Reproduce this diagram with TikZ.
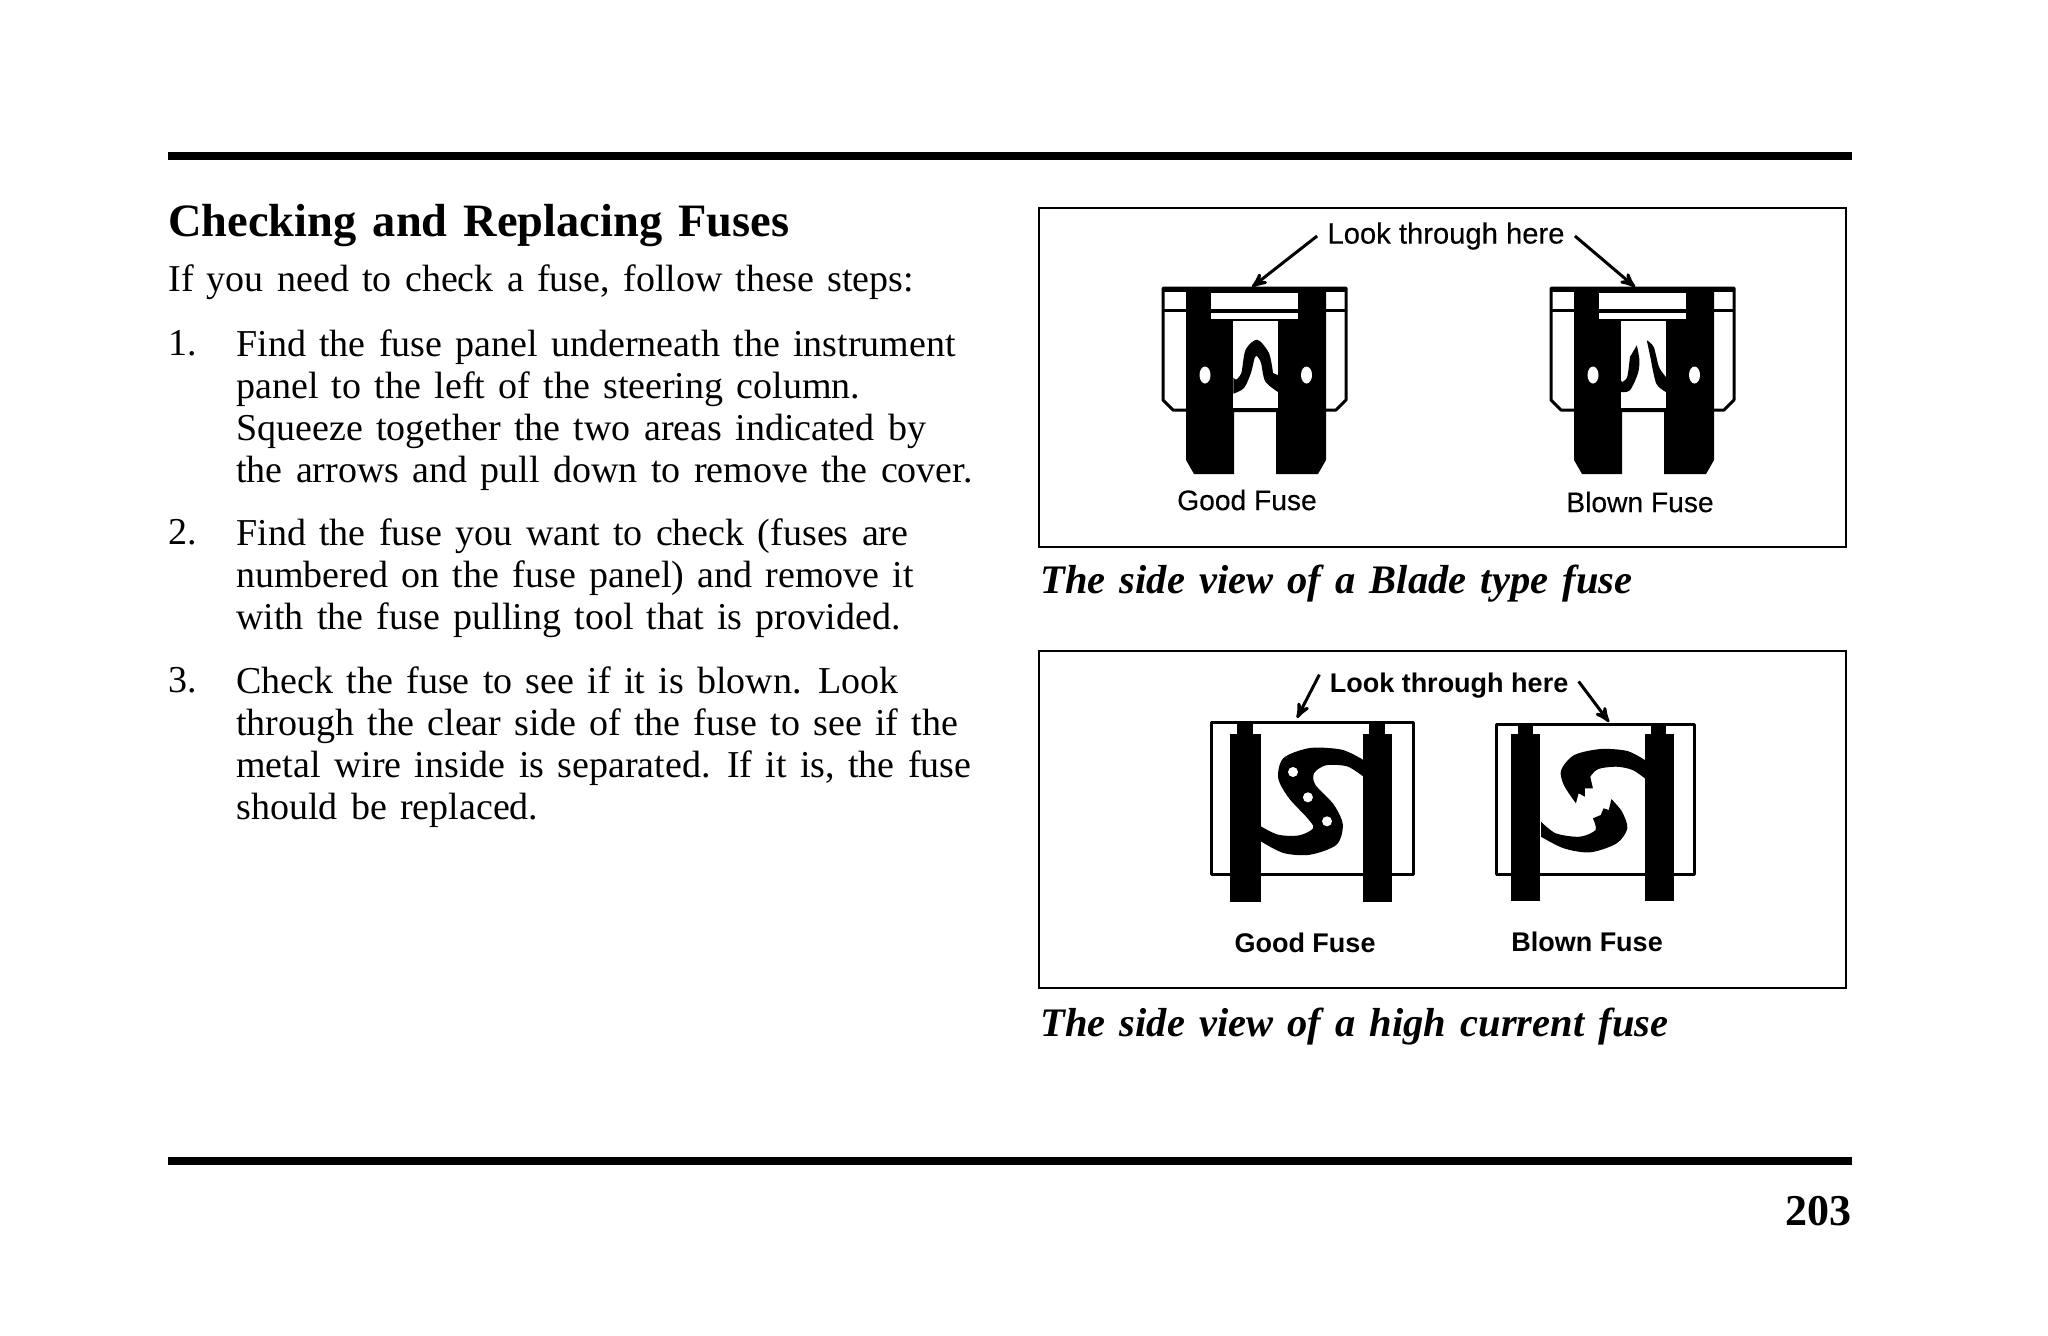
\documentclass[tikz,border=0pt]{standalone}
\usepackage{fontspec}
\setmainfont[WordSpace=1.4]{Liberation Serif}
\setsansfont{Liberation Sans}
\newfontfamily\medsans[FakeBold=0.35]{Liberation Sans}
\usetikzlibrary{arrows}
\tikzset{
	bodytext/.style={font=\fontsize{19}{21}\selectfont,align=left,inner sep=0pt},
	stepnum/.style={bodytext,anchor=base west},
	steptext/.style={bodytext,anchor=north west},
	caption/.style={font=\fontsize{20.25}{22}\selectfont\bfseries\itshape,inner sep=0pt,anchor=base west},
	looklabel/.style={font=\medsans\fontsize{14.6}{16}\selectfont,inner sep=5pt},
	fuselabel/.style={font=\medsans\fontsize{14.1}{16}\selectfont,inner sep=0pt},
	boldlabel/.style={font=\sffamily\fontsize{13.5}{16}\selectfont\bfseries},
	pointer/.style={-stealth',line width=1.5pt,shorten >=0pt},
	frame/.style={line width=1.1pt},
	casing/.style={draw,fill=white,line width=1.5pt,line join=round},
	bladefuse/.pic={
		\path[casing] (0,0) -- (183,0) -- (183,112) -- (173,122) -- (10,122) -- (0,112) -- cycle;
		\fill (0,-1) rectangle (183,4);
		\draw[line width=1.5pt] (0,22.7) -- (183,22.7);
		\fill (23,0) -- (163,0) -- (163,172) -- (155,186) -- (113,186) -- (113,124) -- (71,124) -- (71,186) -- (31,186) -- (23,172) -- cycle;
		\fill[white] (48,5) rectangle (135,21);
		\fill[white] (48,25) rectangle (135,31);
		\fill[white] (70,33) rectangle (115,120);
		\fill[white] (42,87) ellipse (5.5 and 8.5);
		\fill[white] (143.5,87) ellipse (5.5 and 8.5);
	}
}
\begin{document}
\begin{tikzpicture}[x=0.5pt,y=-0.5pt]
	\useasboundingbox (0,0) rectangle (2048,1335);
	% rules
	\fill (168,152) rectangle (1852,160);
	\fill (168,1157) rectangle (1852,1165);
	% left column
	\node[font=\fontsize{23.2}{25}\selectfont\bfseries,inner sep=0pt,anchor=base west] (title) at (168,236) {Checking and Replacing Fuses};
	\node[stepnum] (intro) at (168,291) {If you need to check a fuse, follow these steps:};
	\node[stepnum] (num1) at (168,355) {1.};
	\node[steptext] (step1) at (236,329) {Find the fuse panel underneath the instrument\\panel to the left of the steering column.\\Squeeze together the two areas indicated by\\the arrows and pull down to remove the cover.};
	\node[stepnum] (num2) at (168,544.5) {2.};
	\node[steptext] (step2) at (236,518.5) {Find the fuse you want to check (fuses are\\numbered on the fuse panel) and remove it\\with the fuse pulling tool that is provided.};
	\node[stepnum] (num3) at (168,692) {3.};
	\node[steptext] (step3) at (236,666) {Check the fuse to see if it is blown. Look\\through the clear side of the fuse to see if the\\metal wire inside is separated. If it is, the fuse\\should be replaced.};
	\node[font=\fontsize{22}{24}\selectfont\bfseries,inner sep=0pt,anchor=base east] (page) at (1852,1225) {203};
	% blade panel
	\draw[frame] (1039,208) rectangle (1846,547);
	\pic at (1163,288) {bladefuse};
	\pic at (1551,288) {bladefuse};
	\begin{scope}[shift={(1163,288)}]
		\fill plot[smooth] coordinates {(70.4,105.7) (81,100) (87.9,85) (91.6,70) (94.2,68.3) (98,75) (102.2,93.3) (115.4,104.3)} -- (115.4,87.3) -- plot[smooth] coordinates {(110,85) (105.9,65) (94.2,51.7) (82.6,61.7) (78.3,85) (73,91.7)} -- (70.4,90) -- cycle;
	\end{scope}
	\begin{scope}[shift={(1551,288)}]
		\fill plot[smooth] coordinates {(69.9,104) (78.9,102.3) (86.8,85.7) (88.4,72.3) (85.8,57.3)} -- plot[smooth] coordinates {(78.9,69) (76.2,89) (70.9,94)} -- (69.9,92.3) -- cycle;
		\fill plot[smooth] coordinates {(95.8,52.3) (102.7,59) (108,79) (114.9,89)} -- plot[smooth] coordinates {(114.9,104) (105.3,95.7) (100,72.3)} -- cycle;
	\end{scope}
	\node[looklabel] (look1) at (1446,236) {Look through here};
	\coordinate (bladegood) at (1252,287);
	\coordinate (bladeblown) at (1635,287);
	\path[pointer] (look1.west) edge (bladegood);
	\path[pointer] (look1.east) edge (bladeblown);
	\node[fuselabel] (good1) at (1247,500) {Good Fuse};
	\node[fuselabel] (blown1) at (1640,502) {Blown Fuse};
	\node[caption] (cap1) at (1040,593) {The side view of a Blade type fuse};
	% high current panel
	\draw[frame] (1039,651) rectangle (1846,988);
	\begin{scope}[shift={(1211,722)}]
		\path[casing] (0,0) rectangle (202,152);
		\fill (0,-1) rectangle (202,2);
		\fill (18.5,12) rectangle (50,180);
		\fill (26,0) rectangle (42,12);
		\fill (152,12) rectangle (181,180);
		\fill (158,0) rectangle (174,12);
		\fill plot[smooth] coordinates {(152,37.7) (130.8,27.7) (99,26) (72.5,36) (67.2,56) (77.8,76) (96.3,96) (102.2,106) (88.4,113.3) (67.2,112.7) (49.8,104.3)} -- plot[smooth] coordinates {(49.8,119.3) (72.5,131) (99,132.7) (125.5,122.7) (131.8,102.7) (122.8,82.7) (104.3,62.7) (103.2,51) (114.9,43.3) (136,44.3) (152,54.3)} -- cycle;
		\fill[white] (82,50) circle (5);
		\fill[white] (96.9,75.3) circle (5);
		\fill[white] (116,99.3) circle (5);
	\end{scope}
	\begin{scope}[shift={(1496,724)}]
		\path[casing] (0,0) rectangle (198,150);
		\fill (0,-1) rectangle (198,2);
		\fill (15,10) rectangle (44,177);
		\fill (22,0) rectangle (37,10);
		\fill (149,10) rectangle (178,177);
		\fill (155,0) rectangle (170,10);
		\fill plot[smooth] coordinates {(148.8,36) (131.3,27) (104.8,25) (78.3,31) (65.1,46) (67.8,61) (79.9,79.3)} -- (82.6,69.3) -- (88.9,72.7) -- (88.9,64.3) -- (96.9,64.3) -- plot[smooth] coordinates {(94.2,52.7) (102.2,45) (120.7,42.7) (136.6,46) (148.8,54.3)} -- cycle;
		\fill plot[smooth] coordinates {(45,97.7) (59.8,109.3) (83.6,112.7) (99.5,106) (96.9,94.3)} -- (104.8,91) -- (107.5,84.3) -- (112.8,86) -- plot[smooth] coordinates {(115.4,75) (126,87.7) (131.3,104.3) (120.7,119.3) (94.2,128.3) (67.8,124.3) (45,112.7)} -- cycle;
	\end{scope}
	\node[looklabel,boldlabel] (look2) at (1449,686) {Look through here};
	\coordinate (currentgood) at (1297,718);
	\coordinate (currentblown) at (1609,722);
	\path[pointer] (look2.175) edge (currentgood);
	\path[pointer] (look2.2) edge (currentblown);
	\node[fuselabel,boldlabel] (good2) at (1305,943) {Good Fuse};
	\node[fuselabel,boldlabel] (blown2) at (1587,942) {Blown Fuse};
	\node[caption] (cap2) at (1040,1036) {The side view of a high current fuse};
\end{tikzpicture}
\end{document}
